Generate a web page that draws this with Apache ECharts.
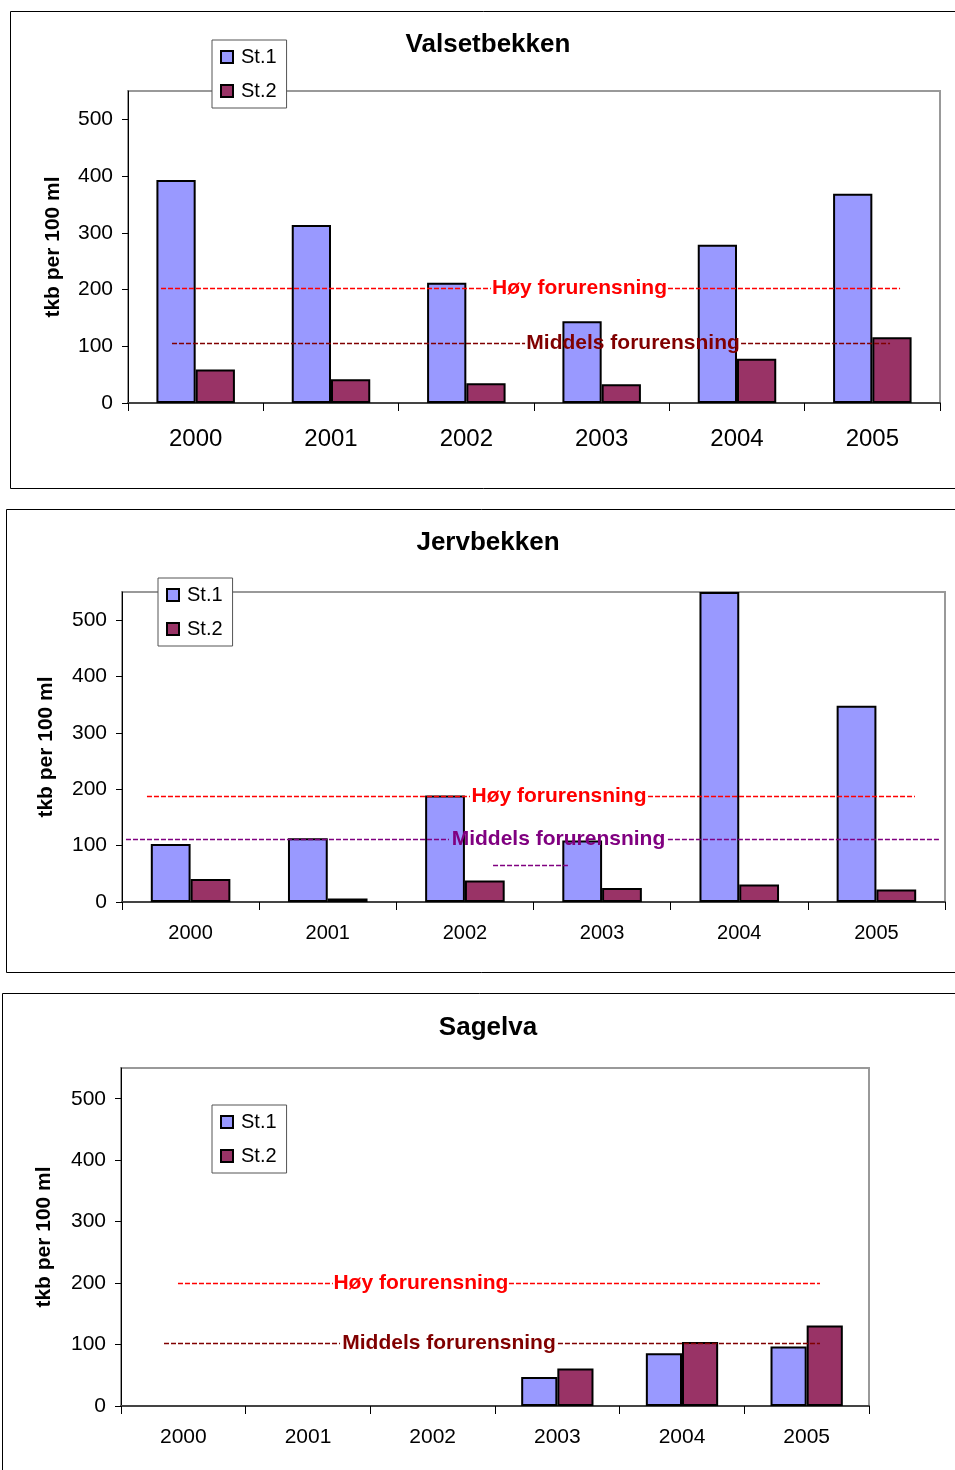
<!DOCTYPE html>
<html><head><meta charset="utf-8">
<script src="https://cdn.jsdelivr.net/npm/echarts@6/dist/echarts.min.js"></script>
<style>html,body{margin:0;padding:0;background:#fff}#c{width:955px;height:1470px}</style>
</head><body><div id="c"></div>
<script>
// ---- data ----
const years = ['2000', '2001', '2002', '2003', '2004', '2005'];
const yTicks = [0, 100, 200, 300, 400, 500];
const seriesNames = ['St.1', 'St.2'];
const titles = ['Valsetbekken', 'Jervbekken', 'Sagelva'];
const yAxisName = 'tkb per 100 ml';

const valsetSt1 = [393, 314, 212, 144, 279, 369];
const valsetSt2 = [59, 42, 35, 33, 78, 116];
const jervSt1 = [103, 113, 189, 109, 550, 348];
const jervSt2 = [41, 6, 38, 25, 31, 22];
const sagSt1 = [null, null, null, 47, 86, 97];
const sagSt2 = [null, null, null, 61, 104, 131];

const labelHoy = 'Høy forurensning';
const labelMiddels = 'Middels forurensning';
// threshold levels drawn in each chart [Høy, Middels]
const valsetLevels = [202, 105];
const jervLevels = [188, 112];
const sagLevels = [200, 102];
const jervExtraLevel = 65;
// dashed line extents in category units (0..6): [lineStart, textStart, textEnd, lineEnd]
const valsetHoySpan = [0.244, 2.682, 3.990, 5.705];
const valsetMidSpan = [0.325, 2.934, 4.530, 5.631];
const jervHoySpan = [0.182, 2.537, 3.835, 5.781];
const jervMidSpan = [0.029, 2.384, 3.980, 5.963];
const jervExtraSpan = [2.705, 3.251];
const sagHoySpan = [0.457, 1.700, 3.112, 5.607];
const sagMidSpan = [0.345, 1.757, 3.505, 5.607];

// ---- layout / style ----
const FONT = 'Liberation Sans';
const COL1 = '#9999FF', COL2 = '#993366';
const panels = [
  {grid: {left: 128, top: 91, width: 812, height: 312}, titleTop: 32, legend: {left: 212, top: 40}, xFont: 24, xMargin: 24, nameGap: 64,
   box: [10, 11, 960, 477], st1: valsetSt1, st2: valsetSt2},
  {grid: {left: 122, top: 592, width: 823, height: 310}, titleTop: 530, legend: {left: 158, top: 578}, xFont: 20, xMargin: 21, nameGap: 65,
   box: [6, 509, 960, 463], st1: jervSt1, st2: jervSt2},
  {grid: {left: 121, top: 1068, width: 748, height: 338}, titleTop: 1015, legend: {left: 212, top: 1105}, xFont: 21, xMargin: 21, nameGap: 66,
   box: [2, 993, 970, 490], st1: sagSt1, st2: sagSt2}
];
const annots = [
  [[valsetLevels[0], valsetHoySpan, labelHoy, '#FF0000'], [valsetLevels[1], valsetMidSpan, labelMiddels, '#800000']],
  [[jervLevels[0], jervHoySpan, labelHoy, '#FF0000'], [jervLevels[1], jervMidSpan, labelMiddels, '#800080', [jervExtraLevel, jervExtraSpan]]],
  [[sagLevels[0], sagHoySpan, labelHoy, '#FF0000'], [sagLevels[1], sagMidSpan, labelMiddels, '#800000']]
];

const option = {
  animation: false,
  backgroundColor: '#fff',
  title: [], legend: [], grid: [], xAxis: [], yAxis: [], series: [], graphic: []
};

panels.forEach((P, p) => {
  option.graphic.push({type: 'rect', shape: {x: P.box[0] + 0.5, y: P.box[1] + 0.5, width: P.box[2], height: P.box[3]},
    style: {fill: 'none', stroke: '#000', lineWidth: 1}, z: -10, silent: true});
  option.title.push({text: titles[p], left: 488, top: P.titleTop, textAlign: 'center', padding: 0,
    textStyle: {fontFamily: FONT, fontWeight: 'bold', fontSize: 26, color: '#000'}});
  option.grid.push(Object.assign({show: true, borderColor: '#999', borderWidth: 2, backgroundColor: 'rgba(0,0,0,0)', containLabel: false}, P.grid));
  option.legend.push({data: seriesNames, orient: 'vertical', left: P.legend.left, top: P.legend.top,
    padding: [7, 10, 7, 8], itemGap: 14, itemWidth: 12, itemHeight: 12, icon: 'rect',
    itemStyle: {borderColor: '#000', borderWidth: 2},
    backgroundColor: '#fff', borderColor: '#555', borderWidth: 1, selectedMode: false, z: 20,
    textStyle: {fontFamily: FONT, fontSize: 20, color: '#000', padding: [0, 0, 0, 3], lineHeight: 20}});
  option.xAxis.push({type: 'category', gridIndex: p, data: years,
    axisLine: {show: true, lineStyle: {color: '#444', width: 2}},
    axisTick: {show: true, length: 8, alignWithLabel: false, lineStyle: {color: '#000', width: 1}},
    axisLabel: {fontFamily: FONT, fontSize: P.xFont, color: '#000', margin: P.xMargin},
    splitLine: {show: false}});
  option.xAxis.push({type: 'value', gridIndex: p, min: 0, max: 6, show: false});
  option.yAxis.push({type: 'value', gridIndex: p, min: 0, max: 550, interval: 100,
    name: yAxisName, nameLocation: 'middle', nameGap: P.nameGap,
    nameTextStyle: {fontFamily: FONT, fontWeight: 'bold', fontSize: 21, color: '#000'},
    axisLine: {show: true, lineStyle: {color: '#000', width: 1}},
    axisTick: {show: true, length: 6, lineStyle: {color: '#000'}, customValues: yTicks},
    axisLabel: {fontFamily: FONT, fontSize: 21, color: '#000', margin: 15, customValues: yTicks},
    splitLine: {show: false}});
  [P.st1, P.st2].forEach((vals, k) => {
    option.series.push({type: 'bar', name: seriesNames[k], xAxisIndex: 2 * p, yAxisIndex: p, data: vals,
      barGap: '0%', barCategoryGap: '42%',
      itemStyle: {color: k === 0 ? COL1 : COL2, borderColor: '#000', borderWidth: 2}, z: 2});
  });
  annots[p].forEach(a => {
    const [level, span, text, color, extra] = a;
    const mlData = [
      [{coord: [span[0], level]}, {coord: [span[1], level]}],
      [{coord: [span[2], level]}, {coord: [span[3], level]}]
    ];
    if (extra) mlData.push([{coord: [extra[1][0], extra[0]]}, {coord: [extra[1][1], extra[0]]}]);
    option.series.push({type: 'scatter', name: text + p, xAxisIndex: 2 * p + 1, yAxisIndex: p, silent: true,
      symbolSize: 1, itemStyle: {color: 'rgba(0,0,0,0)', opacity: 1}, z: 5,
      data: [[(span[1] + span[2]) / 2, level]],
      label: {show: true, position: 'inside', formatter: text, color: color, opacity: 1,
        textBorderWidth: 0, textBorderColor: 'transparent', textShadowBlur: 0,
        fontFamily: FONT, fontWeight: 'bold', fontSize: 21},
      markLine: {silent: true, symbol: ['none', 'none'], label: {show: false},
        lineStyle: {type: [5, 2], color: color, width: 1.3, opacity: 1}, emphasis: {disabled: true},
        data: mlData}
    });
  });
});

const chart = echarts.init(document.getElementById('c'), null, {renderer: 'canvas'});
chart.setOption(option);
</script></body></html>
